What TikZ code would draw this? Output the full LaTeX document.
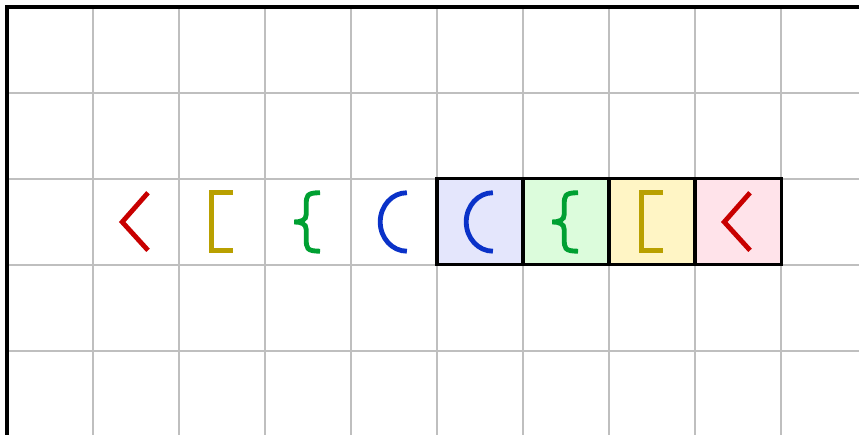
\documentclass[tikz,border=0pt]{standalone}
\usetikzlibrary{positioning}

\definecolor{glred}{RGB}{200,0,0}
\definecolor{glolive}{RGB}{185,160,0}
\definecolor{glgreen}{RGB}{0,160,50}
\definecolor{glblue}{RGB}{10,50,200}

\tikzset{
  glyph/.style={line width=1.6pt},
  chev/.pic={\draw[glyph] (0.14,0.34) -- (-0.16,0) -- (0.14,-0.33);},
  brack/.pic={\draw[glyph] (0.13,0.34) -- (-0.12,0.34) -- (-0.12,-0.33) -- (0.13,-0.33);},
  brace/.pic={\draw[glyph] (0.14,0.34) .. controls (-0.02,0.34) and (-0.02,0.30) .. (-0.02,0.20) -- (-0.02,0.09)
      .. controls (-0.02,0.02) and (-0.08,0) .. (-0.16,0)
      .. controls (-0.08,0) and (-0.02,-0.02) .. (-0.02,-0.09) -- (-0.02,-0.20)
      .. controls (-0.02,-0.30) and (-0.02,-0.34) .. (0.14,-0.34);},
  paren/.pic={\draw[glyph] (0.15,0.34) arc[start angle=90,end angle=270,x radius=0.31cm,y radius=0.34cm];}
}

\begin{document}
\begin{tikzpicture}[
  gridline/.style={draw=black!25,line width=0.65pt},
  edge/.style={draw=black,line width=1.2pt},
  cell/.style={rectangle,draw=black,line width=1pt,minimum size=1cm,inner sep=0pt,outer sep=0pt}
]
  \useasboundingbox (-0.081,-4.966) rectangle (9.907,0.081);
  \clip (-0.081,-4.966) rectangle (9.907,0.081);

  % grid
  \foreach \x in {1,...,9}{\draw[gridline] (\x,0) -- (\x,-5.2);}
  \foreach \y in {1,...,4}{\draw[gridline] (0,-\y) -- (10.2,-\y);}

  % boxed cells
  \node[cell,fill={rgb,255:red,228;green,230;blue,252}](bparen) at (5.5,-2.5) {};
  \node[cell,fill={rgb,255:red,220;green,252;blue,220},right=0pt of bparen](bbrace) {};
  \node[cell,fill={rgb,255:red,255;green,245;blue,197},right=0pt of bbrace](bbrack) {};
  \node[cell,fill={rgb,255:red,255;green,227;blue,234},right=0pt of bbrack](bchev) {};

  % free cells
  \coordinate (fchev) at (1.5,-2.5);
  \coordinate (fbrack) at (2.5,-2.5);
  \coordinate (fbrace) at (3.5,-2.5);
  \coordinate (fparen) at (4.5,-2.5);

  \pic[glred] at (fchev) {chev};
  \pic[glolive] at (fbrack) {brack};
  \pic[glgreen] at (fbrace) {brace};
  \pic[glblue] at (fparen) {paren};
  \pic[glblue] at (bparen) {paren};
  \pic[glgreen] at (bbrace) {brace};
  \pic[glolive] at (bbrack) {brack};
  \pic[glred] at (bchev) {chev};

  % border
  \draw[edge] (0,-5.2) -- (0,0) -- (10.2,0);
\end{tikzpicture}
\end{document}
